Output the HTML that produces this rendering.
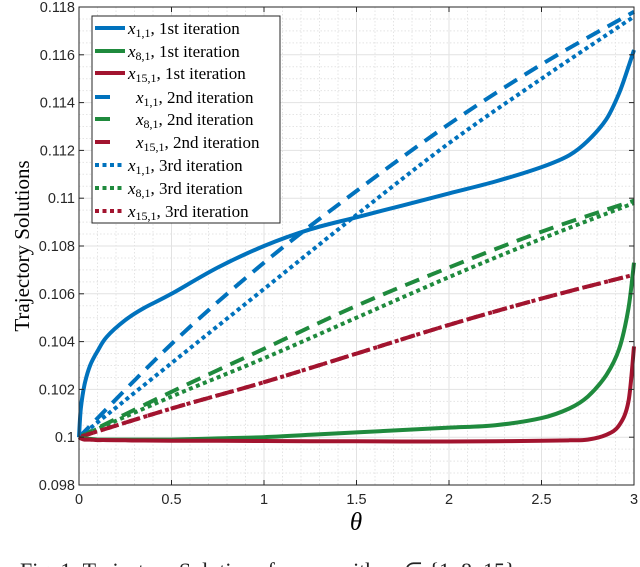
<!DOCTYPE html>
<html><head><meta charset="utf-8"><style>
body{margin:0;background:#fff;width:640px;height:567px;overflow:hidden}
svg{display:block}
.tk{font-family:"Liberation Sans",sans-serif;font-size:14.5px;fill:#262626}
.lg{font-family:"Liberation Serif",serif;font-size:17px;fill:#000}
</style></head><body>
<svg id="chart" width="640" height="567" viewBox="0 0 640 567"></svg>
<script>
const xTicks=[0,0.5,1,1.5,2,2.5,3];
const xTickLabels=["0","0.5","1","1.5","2","2.5","3"];
const yTicks=[0.098,0.1,0.102,0.104,0.106,0.108,0.11,0.112,0.114,0.116,0.118];
const yTickLabels=["0.098","0.1","0.102","0.104","0.106","0.108","0.11","0.112","0.114","0.116","0.118"];
const thetaSolid=[0,0.01,0.03,0.06,0.1,0.15,0.25,0.35,0.5,0.75,1,1.25,1.5,1.75,2,2.25,2.5,2.65,2.75,2.85,2.92,2.97,3];
const x1First=[0.1,0.1012,0.1022,0.103,0.1036,0.1042,0.1049,0.1054,0.1060,0.1071,0.1080,0.1087,0.1092,0.1097,0.1102,0.1107,0.1113,0.1118,0.1124,0.1133,0.1144,0.1155,0.1162];
const x8First=[0.1,0.09997,0.09995,0.09993,0.0999,0.0999,0.0999,0.0999,0.0999,0.09995,0.1,0.1001,0.1002,0.1003,0.1004,0.1005,0.1008,0.1012,0.1017,0.1026,0.1037,0.1054,0.1073];
const x15First=[0.1,0.09995,0.0999,0.0999,0.09988,0.09988,0.09987,0.09986,0.09985,0.09985,0.09984,0.09983,0.09983,0.09982,0.09982,0.09983,0.09985,0.09987,0.0999,0.1001,0.1005,0.1015,0.1038];
const thetaLin=[0,0.5,1,1.5,2,2.5,3];
const x1Second=[0.1,0.1039,0.1073,0.1103,0.1131,0.1156,0.1178];
const x8Second=[0.1,0.1019,0.1037,0.1055,0.1071,0.1086,0.1099];
const x15Second=[0.1,0.1012,0.1023,0.1035,0.1047,0.1058,0.1068];
const x1Third=[0.1,0.1031,0.1062,0.1093,0.1123,0.1150,0.1176];
const x8Third=[0.1,0.1017,0.1033,0.1050,0.1067,0.1083,0.1098];
const x15Third=[0.1,0.1012,0.1023,0.1035,0.1047,0.1058,0.1068];

const NS="http://www.w3.org/2000/svg";
const svg=document.getElementById('chart');
const L=79,R=634,T=7,B=485;
const sx=v=>L+(v-0)/3*(R-L);
const sy=v=>B-(v-0.098)/0.02*(B-T);
function mk(tag,attrs,parent){const e=document.createElementNS(NS,tag);for(const k in attrs)e.setAttribute(k,attrs[k]);(parent||svg).appendChild(e);return e;}
function smooth(pts){
 let d='M'+pts[0][0].toFixed(1)+' '+pts[0][1].toFixed(1);
 for(let i=0;i<pts.length-1;i++){
  const p0=pts[Math.max(0,i-1)],p1=pts[i],p2=pts[i+1],p3=pts[Math.min(pts.length-1,i+2)];
  const c1=[p1[0]+(p2[0]-p0[0])/6,p1[1]+(p2[1]-p0[1])/6];
  const c2=[p2[0]-(p3[0]-p1[0])/6,p2[1]-(p3[1]-p1[1])/6];
  d+=' C'+c1[0].toFixed(1)+' '+c1[1].toFixed(1)+' '+c2[0].toFixed(1)+' '+c2[1].toFixed(1)+' '+p2[0].toFixed(1)+' '+p2[1].toFixed(1);
 }
 return d;
}

const grid=mk('g',{});


for(let i=0;i<=30;i++){const v=i*0.1;if(i%5===0)continue;mk('line',{x1:sx(v),x2:sx(v),y1:T,y2:B,stroke:'#e4e4e4','stroke-dasharray':'1.5 2','stroke-width':1},grid);}
for(let i=0;i<=40;i++){const v=0.098+i*0.0005;if(i%4===0)continue;mk('line',{x1:L,x2:R,y1:sy(v),y2:sy(v),stroke:'#e4e4e4','stroke-dasharray':'1.5 2','stroke-width':1},grid);}
xTicks.forEach(v=>mk('line',{x1:sx(v),x2:sx(v),y1:T,y2:B,stroke:'#e2e2e2','stroke-width':1},grid));
yTicks.forEach(v=>mk('line',{x1:L,x2:R,y1:sy(v),y2:sy(v),stroke:'#e2e2e2','stroke-width':1},grid));

const series=[
 [thetaLin,x1Second,'#0072bd','15 9','x11-2nd'],
 [thetaLin,x8Second,'#1f8a3d','15 9','x81-2nd'],
 [thetaLin,x15Second,'#a2142f','15 9','x151-2nd'],
 [thetaLin,x1Third,'#0072bd','4 3.5','x11-3rd'],
 [thetaLin,x8Third,'#1f8a3d','4 3.5','x81-3rd'],
 [thetaLin,x15Third,'#a2142f','4 3.5','x151-3rd'],
 [thetaSolid,x1First,'#0072bd','','x11-1st'],
 [thetaSolid,x8First,'#1f8a3d','','x81-1st'],
 [thetaSolid,x15First,'#a2142f','','x151-1st']
];
series.forEach(s=>{
 const pts=s[0].map((t,i)=>[sx(t),sy(s[1][i])]);
 const p=mk('path',{d:smooth(pts),fill:'none',stroke:s[2],'stroke-width':4,'stroke-dasharray':s[3]||'none','stroke-linejoin':'round'});
 
 
});

const ax=mk('g',{});


mk('rect',{x:L,y:T,width:R-L,height:B-T,fill:'none',stroke:'#262626','stroke-width':1},ax);
xTicks.forEach((v,i)=>{
 mk('line',{x1:sx(v),x2:sx(v),y1:B,y2:B-5,stroke:'#262626'},ax);
 mk('line',{x1:sx(v),x2:sx(v),y1:T,y2:T+5,stroke:'#262626'},ax);
 const t=mk('text',{x:sx(v),y:B+19,'text-anchor':'middle',class:'tk'},ax);t.textContent=xTickLabels[i];
 
 
});
yTicks.forEach((v,i)=>{
 mk('line',{x1:L,x2:L+5,y1:sy(v),y2:sy(v),stroke:'#262626'},ax);
 mk('line',{x1:R,x2:R-5,y1:sy(v),y2:sy(v),stroke:'#262626'},ax);
 const t=mk('text',{x:L-4,y:sy(v)+5,'text-anchor':'end',class:'tk'},ax);t.textContent=yTickLabels[i];
 
 
});
</script>
<svg style="position:absolute;left:0;top:0" width="640" height="567">
<text x="356" y="530" text-anchor="middle" font-family="Liberation Serif,serif" font-style="italic" font-size="25">θ</text>
<text transform="translate(29,246) rotate(-90)" text-anchor="middle" font-family="Liberation Serif,serif" font-size="21">Trajectory Solutions</text>
<g>
<rect x="92" y="16" width="188" height="207" fill="#fff" stroke="#262626" stroke-width="1"/>
<line x1="95" x2="125" y1="28" y2="28" stroke="#0072bd" stroke-width="4"/>
<line x1="95" x2="125" y1="51" y2="51" stroke="#1f8a3d" stroke-width="4"/>
<line x1="95" x2="125" y1="73" y2="73" stroke="#a2142f" stroke-width="4"/>
<line x1="95" x2="110" y1="97" y2="97" stroke="#0072bd" stroke-width="4"/>
<line x1="95" x2="110" y1="119" y2="119" stroke="#1f8a3d" stroke-width="4"/>
<line x1="95" x2="110" y1="142" y2="142" stroke="#a2142f" stroke-width="4"/>
<line x1="95" x2="125" y1="165" y2="165" stroke="#0072bd" stroke-width="4" stroke-dasharray="4 3.5"/>
<line x1="95" x2="125" y1="188" y2="188" stroke="#1f8a3d" stroke-width="4" stroke-dasharray="4 3.5"/>
<line x1="95" x2="125" y1="211" y2="211" stroke="#a2142f" stroke-width="4" stroke-dasharray="4 3.5"/>
<text class="lg" x="128" y="34"><tspan font-style="italic">x</tspan><tspan font-size="12" dy="3">1,1</tspan><tspan dy="-3">, 1st iteration</tspan></text>
<text class="lg" x="128" y="57"><tspan font-style="italic">x</tspan><tspan font-size="12" dy="3">8,1</tspan><tspan dy="-3">, 1st iteration</tspan></text>
<text class="lg" x="128" y="79"><tspan font-style="italic">x</tspan><tspan font-size="12" dy="3">15,1</tspan><tspan dy="-3">, 1st iteration</tspan></text>
<text class="lg" x="136" y="103"><tspan font-style="italic">x</tspan><tspan font-size="12" dy="3">1,1</tspan><tspan dy="-3">, 2nd iteration</tspan></text>
<text class="lg" x="136" y="125"><tspan font-style="italic">x</tspan><tspan font-size="12" dy="3">8,1</tspan><tspan dy="-3">, 2nd iteration</tspan></text>
<text class="lg" x="136" y="148"><tspan font-style="italic">x</tspan><tspan font-size="12" dy="3">15,1</tspan><tspan dy="-3">, 2nd iteration</tspan></text>
<text class="lg" x="128" y="171"><tspan font-style="italic">x</tspan><tspan font-size="12" dy="3">1,1</tspan><tspan dy="-3">, 3rd iteration</tspan></text>
<text class="lg" x="128" y="194"><tspan font-style="italic">x</tspan><tspan font-size="12" dy="3">8,1</tspan><tspan dy="-3">, 3rd iteration</tspan></text>
<text class="lg" x="128" y="217"><tspan font-style="italic">x</tspan><tspan font-size="12" dy="3">15,1</tspan><tspan dy="-3">, 3rd iteration</tspan></text>
</g>
<text x="20" y="578" font-family="Liberation Serif,serif" font-size="22" fill="#222">Fig. 1: Trajectory Solutions for &#160;&#160;&#160;&#160;&#160;&#160; with &#160;&#160;&#160; ∈ {1, 8, 15}.</text>
</svg>
</body></html>
